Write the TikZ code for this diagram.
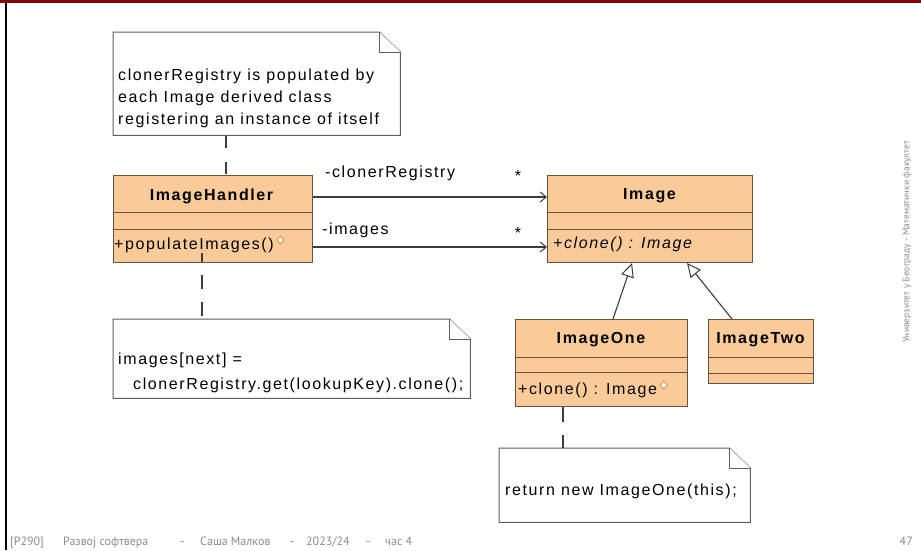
\documentclass[tikz,border=0pt]{standalone}
\usepackage{fontspec}
\setmainfont{Liberation Sans}[LetterSpace=10]
\newfontfamily\footfont{PT Sans}
\usetikzlibrary{arrows.meta}

\definecolor{classfill}{RGB}{250,203,153}
\definecolor{classline}{RGB}{98,84,70}
\definecolor{noteline}{RGB}{95,95,95}
\definecolor{linkline}{RGB}{60,60,60}
\definecolor{topbar}{RGB}{128,6,6}
\definecolor{footgray}{RGB}{140,140,140}
\definecolor{iconline}{RGB}{214,140,60}

% UML note: name, left, top, right, bottom (fold of 21 x 20)
\newcommand\umlnote[5]{%
  \node[inner sep=0, minimum width=#4pt-#2pt, minimum height=#5pt-#3pt, anchor=north west] (#1) at (#2,#3) {};
  \draw[notebox] (#1.north west) -- ([xshift=-21pt]#1.north east) -- ([yshift=-20pt]#1.north east)
     -- (#1.south east) -- (#1.south west) -- cycle;
  \draw[notebox] ([xshift=-21pt]#1.north east) -- ([xshift=-21pt,yshift=-20pt]#1.north east)
     -- ([yshift=-20pt]#1.north east);
}

\tikzset{
  classbox/.style={draw=classline, fill=classfill, line width=1pt, inner sep=0, anchor=north west},
  divider/.style={draw=classline, line width=1pt},
  notebox/.style={draw=noteline, fill=white, line width=1pt},
  txt/.style={inner sep=0, font=\fontsize{16}{20}\selectfont},
  notelink/.style={draw=linkline, line width=1.2pt},
  assoc/.style={draw=linkline, line width=1.1pt, -{Straight Barb[length=6pt, width=10pt, line width=1pt]}},
  gen/.style={draw=linkline, line width=1.1pt, -{Triangle[open, length=14pt, width=13pt, line width=1pt]}},
  opicon/.style={draw=iconline, fill=white, line width=0.8pt},
  foot/.style={inner sep=0, text=footgray, font=\footfont\fontsize{12}{14}\selectfont, anchor=base west},
}

\begin{document}
\begin{tikzpicture}[x=1pt, y=-1pt]
\useasboundingbox (0,0) rectangle (921,550);
\fill[white] (0,0) rectangle (921,550);

% slide frame
\fill[topbar] (0,0) rectangle (921,3);
\draw[black, line width=2pt] (6,3) -- (6,550);

% ---- notes ----
\umlnote{regnote}{113}{32}{400}{135}
\node[txt, anchor=base west] (regtext1) at (118,80) {clonerRegistry is populated by};
\node[txt, anchor=base west] (regtext2) at (118,102) {each Image derived class};
\node[txt, anchor=base west] (regtext3) at (118,124) {registering an instance of itself};

\umlnote{popnote}{113}{319}{470}{398}
\node[txt, anchor=base west] (poptext1) at (118,364) {images[next] =};
\node[txt, anchor=base west] (poptext2) at (133,389) {clonerRegistry.get(lookupKey).clone();};

\umlnote{clonenote}{499}{448}{750}{522}
\node[txt, anchor=base west] (clonetext) at (505,495) {return new ImageOne(this);};

% ---- classes ----
\node[classbox, minimum width=199pt, minimum height=87pt] (handler) at (113,175) {};
\draw[divider] (113,212) -- (312,212) (113,229) -- (312,229);
\node[txt, anchor=base, font=\fontsize{16}{20}\selectfont\bfseries] (handlername) at (211.5,200) {ImageHandler};
\node[txt, anchor=base west] (handlerop) at (114,249) {+populateImages()};

\node[classbox, minimum width=205pt, minimum height=87pt] (image) at (547,175) {};
\draw[divider] (547,212) -- (752,212) (547,229) -- (752,229);
\node[txt, anchor=base, font=\fontsize{16}{20}\selectfont\bfseries] (imagename) at (649.5,199) {Image};
\node[txt, anchor=base west, font=\fontsize{16}{20}\selectfont\itshape] (imageop) at (553,248) {+clone() : Image};

\node[classbox, minimum width=172pt, minimum height=87pt] (imageone) at (515,319) {};
\draw[divider] (515,357) -- (687,357) (515,372) -- (687,372);
\node[txt, anchor=base, font=\fontsize{16}{20}\selectfont\bfseries] (onename) at (601,343) {ImageOne};
\node[txt, anchor=base west] (oneop) at (518,394) {+clone() : Image};

\node[classbox, minimum width=105pt, minimum height=64pt] (imagetwo) at (708,319) {};
\draw[divider] (708,357) -- (813,357) (708,373) -- (813,373);
\node[txt, anchor=base, font=\fontsize{16}{20}\selectfont\bfseries] (twoname) at (760.5,343) {ImageTwo};

% operation icons
\path[opicon] ([xshift=3pt,yshift=9pt]handlerop.base east) -- ++(3.5,-4) -- ++(3.5,4) -- ++(-3.5,4) -- cycle;
\path[opicon] ([xshift=3pt,yshift=9pt]oneop.base east) -- ++(3.5,-4) -- ++(3.5,4) -- ++(-3.5,4) -- cycle;

% ---- associations ----
\coordinate (rowreg) at (0,197);
\coordinate (rowimg) at (0,247);
\draw[assoc] (handler.east |- rowreg) -- (image.west |- rowreg);
\draw[assoc] (handler.east |- rowimg) -- (image.west |- rowimg);
\node[txt, anchor=base west] (reglabel) at (325,177) {-clonerRegistry};
\node[txt, anchor=base west] (imglabel) at (322,234) {-images};
\node[txt, anchor=base] (regmult) at (518,181) {*};
\node[txt, anchor=base] (imgmult) at (518,238) {*};

% ---- generalizations ----
\coordinate (genone) at (613,0);
\coordinate (tipone) at (632,0);
\coordinate (gentwo) at (732,0);
\coordinate (tiptwo) at (687,0);
\draw[gen] (imageone.north -| genone) -- (image.south -| tipone);
\draw[gen] (imagetwo.north -| gentwo) -- (image.south -| tiptwo);

% ---- note anchors ----
\coordinate (linkreg) at (226,0);
\coordinate (linkpop) at (202,0);
\coordinate (linkclone) at (563,0);
\draw[notelink, dash pattern=on 12pt off 14pt] ([yshift=-1pt]regnote.south -| linkreg) -- (handler.north -| linkreg);
\draw[notelink, dash pattern=on 14pt off 13pt, dash phase=5pt] ([yshift=-4pt]handlerop.base -| linkpop) -- (popnote.north -| linkpop);
\draw[notelink, dash pattern=on 15pt off 13pt] (imageone.south -| linkclone) -- (clonenote.north -| linkclone);

% ---- footer ----
\node[foot] (f1) at (10,545) {[P290]};
\node[foot] (f2) at (63,545) {Развој софтвера};
\node[foot] (f3) at (180,545) {-};
\node[foot] (f4) at (200,545) {Саша Малков};
\node[foot] (f5) at (290,545) {-};
\node[foot] (f6) at (306,545) {2023/24};
\node[foot] (f7) at (366,545) {-};
\node[foot] (f8) at (385,545) {час 4};
\node[foot, anchor=base east] (pagenum) at (913,545) {47};
\node[inner sep=0, text=footgray, font=\footfont\fontsize{9.5}{11}\selectfont, rotate=90] (uni) at (907,242) {Универзитет у Београду - Математички факултет};
\end{tikzpicture}
\end{document}
